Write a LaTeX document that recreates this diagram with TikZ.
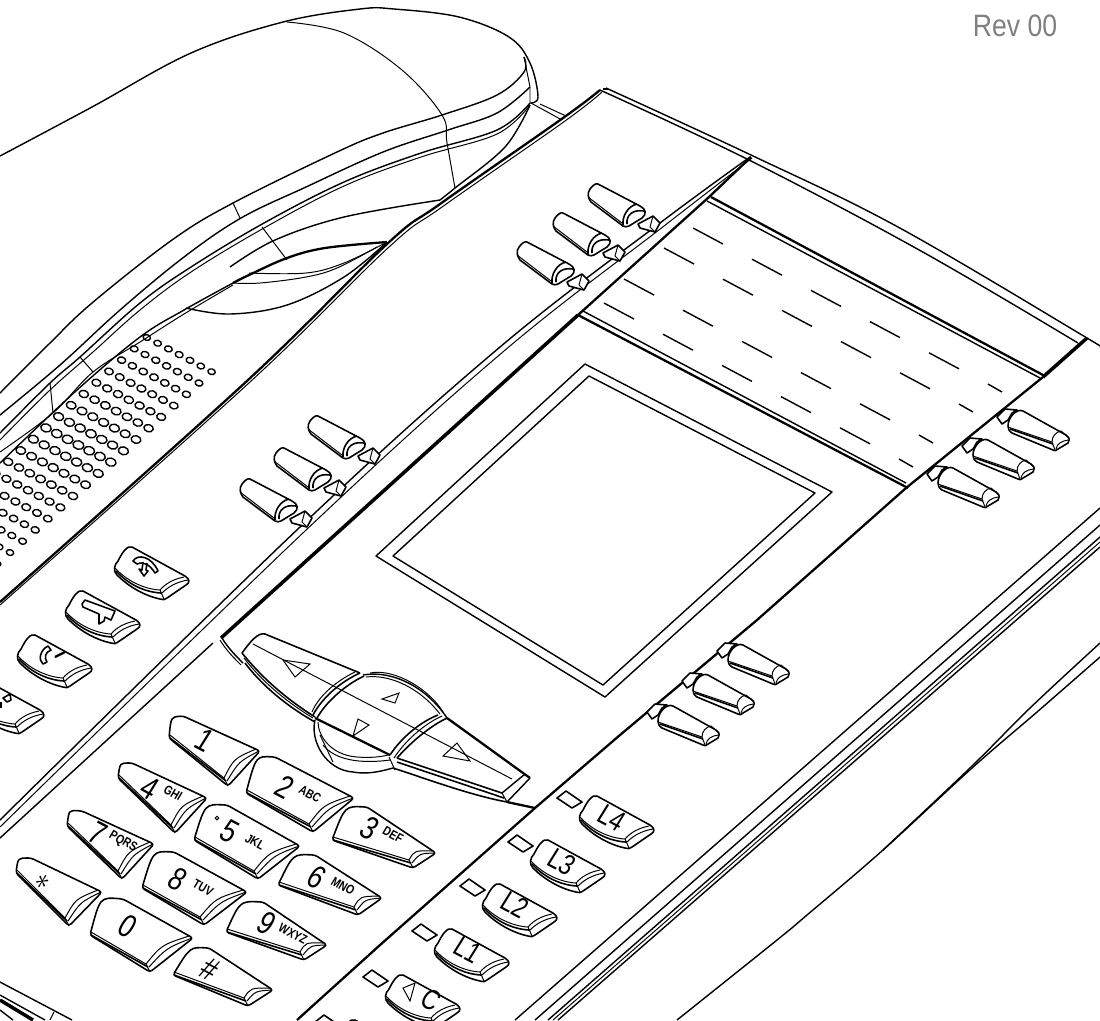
\documentclass[tikz,border=0pt]{standalone}
\usepackage{fontspec}
\setmainfont{Liberation Sans}
\usetikzlibrary{calc}

\tikzset{
	edge/.style={line width=.4pt,line join=round},
	fine/.style={line width=.28pt},
	bold/.style={line width=.65pt},
	heavy/.style={line width=1pt},
	keyline/.style={line width=.45pt,line join=round},
	padnum/.style={cm={.72,-.38,.55,.88,(0,0)},inner sep=0,font=\fontsize{9}{9}\selectfont},
	padsub/.style={cm={.62,-.33,.45,.75,(0,0)},inner sep=0,font=\fontsize{4.2}{5}\selectfont\bfseries},
	softkey/.pic={
		\draw[keyline,fill=white] (40,40) -- (55,32) -- (62,39) -- (57,48) -- (42,44) -- cycle;
		\draw[fine] (55,32) -- (52,43) -- (57,48);
		\draw[keyline,fill=white] (0,0) -- (42,22) .. controls (48,25) and (49,30) .. (44,34) -- (31,42) .. controls (29,43) and (27,43) .. (25,42) -- (-7,18) .. controls (-10,14) and (-11,9) .. (-8,5) .. controls (-5,1) and (-2,-1) .. (0,0) -- cycle;
		\draw[fine] (-10,13) -- (24,39);
		\draw[keyline] (25,41) .. controls (24,32) and (30,22) .. (39,20);
		\draw[keyline] (29,40) .. controls (28,32) and (34,25) .. (46,27);
	},
	sidekey/.pic={
		\draw[keyline,fill=white] (-26,6) -- (-18,-2) -- (-6,-1) -- (-11,2) -- (-15,9) -- (-21,13) -- cycle;
		\draw[keyline,fill=white] (0,0) -- (43,24) .. controls (47,27) and (47,30) .. (45,32) -- (35,38) .. controls (33,40) and (32,40) .. (30,39) -- (-11,22) .. controls (-14,20) and (-15,18) .. (-15,15) .. controls (-15,6) and (-6,-3) .. (0,0) -- cycle;
		\draw[fine] (-15,16) -- (29,31);
		\draw[keyline] (-13,18) -- (30,33);
		\draw[fine] (29,31) -- (32,39);
		\draw[fine] (29,31) .. controls (29,25) and (33,21) .. (38,20) -- (46,27);
		\draw[fine] (33,38) .. controls (34,33) and (38,30) .. (45,29);
	},
	funckey/.pic={
		\draw[keyline,fill=white] (0,0) -- (53,29) .. controls (58,32) and (58,36) .. (54,38) -- (35,51) .. controls (33,53) and (31,53) .. (28,52) .. controls (10,48) and (-5,38) .. (-15,28) .. controls (-19,24) and (-18,18) .. (-14,14) .. controls (-10,6) and (-5,-2) .. (0,0) -- cycle;
		\draw[fine] (-17,21) .. controls (-5,34) and (12,42) .. (28,43);
		\draw[keyline] (-16,24) .. controls (-4,37) and (12,45) .. (29,46);
		\draw[fine] (28,43) -- (32,52);
		\draw[fine] (28,43) .. controls (34,36) and (42,32) .. (52,30);
		\draw[fine] (30,46) .. controls (36,40) and (44,35) .. (56,33);
	},
	ledbox/.pic={
		\draw[keyline] (-40,2) -- (-31,-5) -- (-15,6) -- (-25,12) -- cycle;
	},
}

% d = left foot, v = left bend, a = top, b = right, c = bottom
\newcommand{\padkey}[5]{
	\coordinate (kd) at (#1);
	\coordinate (kv) at (#2);
	\coordinate (ka) at (#3);
	\coordinate (kb) at (#4);
	\coordinate (kc) at (#5);
	\coordinate (kp) at ($(kc)+(-4,-8)$);
	\coordinate (kq) at ($(kb)+(-4,-2)$);
	\draw[keyline,rounded corners=.8pt,fill=white] (kd) .. controls (kv) .. (ka) -- (kb) -- (kc) -- cycle;
	\draw[fine] ($(kd)+(1,-3)$) -- (kp);
	\draw[keyline] ($(kd)+(1,0)$) -- ($(kp)+(2,3)$);
	\draw[fine] (kp) -- (kc);
	\draw[fine] (kp) .. controls ($(kp)!.5!(kq)+(-6,-5)$) .. (kq);
	\draw[fine] ($(kp)+(3,3)$) .. controls ($(kp)!.5!(kq)+(-1,-2)$) .. ($(kq)+(3,2)$);
}

\begin{document}
\begin{tikzpicture}[x=0.01cm,y=-0.01cm]
	\useasboundingbox (0,0) rectangle (1100,1020);
	\clip (0,0) rectangle (1100,1020);

	\node[font=\fontsize{8.8}{9}\selectfont,text=black!50,xscale=.86,inner sep=0] (rev) at (1015,26) {Rev 00};

	% handset
	\draw[edge] plot[smooth,tension=.6] coordinates {(0,156) (92,107) (191,53) (283,22) (360,9) (394,9) (459,17) (509,37) (530,63) (538,97) (530,103)};
	\draw[fine] plot[smooth,tension=.6] coordinates {(287,22) (344,33) (402,70) (442,115) (447,143) (455,188)};
	\draw[edge] plot[smooth,tension=.6] coordinates {(524,57) (524,72) (497,95) (442,115) (383,133) (337,152) (233,203) (172,240) (92,303) (50,343) (0,393)};
	\draw[edge] plot[smooth,tension=.6] coordinates {(530,87) (497,113) (448,130) (383,152) (306,187) (241,218) (184,257) (120,310) (60,365) (0,415)};
	\draw[edge] plot[smooth,tension=.6] coordinates {(530,103) (497,130) (421,153) (344,182) (264,223) (191,267) (140,303) (80,357) (50,383) (0,433)};
	\draw[fine] plot[smooth,tension=.6] coordinates {(530,105) (497,134) (421,157) (344,186) (264,228) (191,272) (140,310) (93,352) (50,390) (0,440)};
	\draw[edge] plot[smooth,tension=.6] coordinates {(530,105) (505,147) (455,188) (440,200)};
	\draw[fine] (524,57) -- (530,87) -- (530,103);
	\draw[edge] plot[smooth,tension=.6] coordinates {(233,283) (184,310) (140,337) (77,390) (0,463)};
	\draw[fine] plot[smooth,tension=.6] coordinates {(233,285) (184,314) (140,342) (93,372) (53,413) (0,452)};
	\draw[fine] (80,357) -- (93,372);
	\draw[fine] (50,383) -- (53,413);
	\draw[fine] (233,203) -- (240,218);
	\draw[edge] plot[smooth,tension=.6] coordinates {(440,200) (344,217) (275,240) (230,267)};
	\draw[fine] (262,227) -- (287,260);
	\draw[bold] plot[smooth,tension=.6] coordinates {(387,242) (325,248) (287,258) (249,275) (233,283)};
	\draw[fine] plot[smooth,tension=.6] coordinates {(387,242) (344,263) (306,273) (249,273)};
	\draw[fine] plot[smooth,tension=.6] coordinates {(377,247) (337,268) (306,277) (260,283) (233,283)};
	\draw[edge] plot[smooth,tension=.6] coordinates {(387,242) (344,277) (287,305) (230,314) (186,308)};
	\draw[fine] (531,103) -- (562,120);
	\draw[fine] (540,104) -- (566,116);

	% speaker holes
	\foreach \k in {-6,...,11}
	\foreach \j in {0,...,6} {
		\pgfmathsetmacro{\hx}{73+12.6*\k-10.8*\j}
		\pgfmathsetmacro{\hy}{496-11.3*\k-5.7*\j}
		\pgfmathsetmacro{\hr}{5.6-.2*abs(\k-3)-.08*abs(\j-3)}
		\draw[edge,rotate around={-15:(\hx,\hy)}] (\hx,\hy) ellipse ({\hr} and {.76*\hr});
	}

	% body lines
	\draw[bold] plot[smooth,tension=.6] coordinates {(600,90) (563,118) (440,204) (387,244) (248,380) (0,602)};
	\draw[fine] plot[smooth,tension=.6] coordinates {(602,92) (565,121) (442,207) (389,247) (250,382) (0,605)};
	\draw[edge] (603,89) -- (608,89);
	\draw[edge] plot[smooth,tension=.6] coordinates {(606,88) (751,155) (898,227) (1087,338) (1100,347)};
	\draw[edge] plot[smooth,tension=.6] coordinates {(600,90) (749,160) (921,251) (1078,343)};
	\draw[edge] plot[smooth,tension=.6] coordinates {(750,157) (660,223) (500,347) (300,527) (0,820)};
	\draw[fine] plot[smooth,tension=.6] coordinates {(752,158) (664,226) (504,351) (305,531) (0,827)};
	\draw[bold] (751,157) -- (709,197) -- (578,315);
	\draw[heavy] (578,315) -- (221,638);
	\draw[edge] (213,643) -- (0,838);
	\draw[heavy] (1087,338) -- (1043,377);
	\draw[bold] (1043,377) -- (906,488);
	\draw[bold] (906,488) -- (757,620) -- (620,735) -- (535,808) -- (380,945) -- (297,1020);
	\draw[bold] (711,197) -- (1043,375);
	\draw[edge] (707,201) -- (1040,378);
	\draw[bold] (578,315) -- (908,488);
	\draw[edge] (583,311) -- (906,483);

	% labels strip
	\foreach \x/\y in {693/228,664/248,624/279,604/303} {
		\foreach \i in {0,...,4}
			\draw[edge] (\x+\i*59,\y+\i*31.2) -- ++(30,16);
		\draw[edge] (\x+5*59,\y+5*31.2) -- ++(14,8);
	}

	% display
	\draw[edge] (585,364) -- (832,492) -- (605,697) -- (376,556) -- cycle;
	\draw[edge] (589,376) -- (815,493) -- (603,685) -- (393,556) -- cycle;

	% right rim
	\draw[edge] (1100,508) -- (515,1020);
	\draw[edge] (1100,525) -- (535,1020);
	\draw[edge] (1100,537) -- (548,1020);
	\draw[fine] (1100,542) -- (553,1020);
	\draw[edge] (1100,547) -- (558,1020);
	\draw[edge] plot[smooth,tension=.6] coordinates {(1100,643) (1030,708) (972,766) (883,850)};
	\draw[edge] plot[smooth,tension=.6] coordinates {(1100,657) (1037,712) (972,768) (883,850) (807,915) (777,940) (677,1020)};

	% corner at the lower left
	\draw[edge] (0,982) -- (72,1020);
	\draw[edge] (0,995) -- (45,1020);
	\draw[heavy] (0,1000) -- (33,1020);
	\draw[edge] (0,1010) -- (13,1020);
	\draw[fine] (54,1012) -- (50,1020);

	% navigation pad
	\draw[edge] (222,638) .. controls (228,648) and (236,656) .. (243,663);
	\draw[fine] (220,640) .. controls (226,650) and (234,658) .. (241,665);
	\draw[keyline] (242,653) .. controls (250,642) and (258,632) .. (265,634) -- (360,673);
	\draw[fine] (253,644) -- (512,779);
	\draw[keyline] (242,653) .. controls (264,680) and (288,700) .. (315,717);
	\draw[keyline] (245,663) .. controls (264,688) and (290,708) .. (315,722);
	\draw[fine] (244,658) .. controls (264,684) and (290,704) .. (313,718);
	\draw[edge] (363,675) .. controls (390,670) and (425,685) .. (447,718);
	\draw[fine] (366,677) .. controls (390,674) and (420,688) .. (440,714);
	\draw[fine] (370,673) .. controls (395,668) and (430,690) .. (443,712);
	\draw[keyline] (360,673) .. controls (340,682) and (322,698) .. (313,715);
	\draw[fine] (355,672) .. controls (338,680) and (319,695) .. (312,712);
	\draw[keyline] (364,676) .. controls (345,685) and (326,702) .. (317,718);
	\draw[keyline] (438,715) .. controls (420,722) and (401,738) .. (390,755);
	\draw[fine] (442,716) .. controls (424,724) and (405,741) .. (394,758);
	\draw[keyline] (447,718) .. controls (430,726) and (410,743) .. (397,758);
	\draw[bold] (315,718) -- (390,755);
	\draw[bold] (447,718) -- (530,778);
	\draw[edge] (530,778) -- (507,802);
	\draw[edge] (525,774) -- (502,793);
	\draw[fine] (502,793) -- (507,802);
	\draw[keyline] (397,758) -- (502,793);
	\draw[keyline] (397,762) -- (504,798);
	\draw[keyline] (393,768) .. controls (430,780) and (470,795) .. (507,802);
	\draw[bold] (507,802) -- (535,808);
	\draw[edge] (315,720) .. controls (310,740) and (325,770) .. (353,772) .. controls (370,775) and (385,770) .. (393,768);
	\draw[fine] (318,722) .. controls (318,735) and (330,755) .. (357,757) .. controls (370,758) and (380,757) .. (388,755);
	\draw[fine] (323,745) .. controls (335,760) and (360,764) .. (390,760);
	\draw[fine] (320,735) -- (333,762);
	\draw[fine] (389,757) -- (395,770);
	\draw[fine] (283,660) -- (310,664) -- (295,677) -- cycle;
	\draw[fine] (382,699) -- (399,693) -- (395,703) -- cycle;
	\draw[fine] (358,719) -- (369,725) -- (353,736) -- cycle;
	\draw[fine] (443,756) -- (457,743) -- (470,761) -- cycle;

	% soft keys
	\foreach \x/\y in {598/184,563/213,527/242,318/416,284/448,250/479}
		\pic at (\x,\y) {softkey};
	\foreach \x/\y in {1023/411,988/440,953/468,743/645,708/675,673/706}
		\pic at (\x,\y) {sidekey};
	\foreach \x/\y in {597/796,548/840,500/884,452/929,403/975,132/547,83/591,35/635,-13/681,355/1020}
		\pic at (\x,\y) {funckey};
	\foreach \x/\y in {597/796,548/840,500/884,452/929,403/975,355/1020}
		\pic at (\x,\y) {ledbox};

	% key pad
	\padkey{169,738}{171,717}{183,716}{260,751}{228,786}
	\padkey{118,778}{120,763}{132,763}{207,798}{175,833}
	\padkey{67,826}{69,810}{82,811}{154,844}{122,879}
	\padkey{16,873}{18,858}{31,858}{102,892}{69,926}
	\padkey{246,793}{256,756}{275,757}{354,798}{313,832}
	\padkey{194,840}{205,804}{227,805}{300,846}{258,879}
	\padkey{142,888}{153,851}{174,852}{247,892}{204,925}
	\padkey{90,935}{100,897}{123,899}{193,938}{150,972}
	\padkey{332,840}{345,806}{367,807}{436,853}{413,868}
	\padkey{278,885}{293,854}{315,855}{382,898}{358,915}
	\padkey{226,932}{240,901}{263,902}{327,945}{304,960}
	\padkey{173,975}{190,947}{209,948}{273,990}{248,1006}

	\node[padnum] (num1) at (205,740) {1};
	\node[padnum] (num2) at (285,787) {2};
	\node[padnum] (num3) at (370,828) {3};
	\node[padnum] (num4) at (150,788) {4};
	\node[padnum] (num5) at (230,831) {5};
	\node[padnum] (num6) at (317,877) {6};
	\node[padnum] (num7) at (98,833) {7};
	\node[padnum] (num8) at (178,879) {8};
	\node[padnum] (num9) at (267,923) {9};
	\node[padnum] (num0) at (128,926) {0};
	\node[padnum] (star) at (42,882) {$\ast$};
	\node[padnum] (hash) at (210,969) {\#};
	\node[padsub] (abc) at (310,794) {ABC};
	\node[padsub] (def) at (393,835) {DEF};
	\node[padsub] (ghi) at (173,793) {GHI};
	\node[padsub] (jkl) at (255,842) {JKL};
	\node[padsub] (mno) at (343,886) {MNO};
	\node[padsub] (pqrs) at (123,842) {PQRS};
	\node[padsub] (tuv) at (203,888) {TUV};
	\node[padsub] (wxyz) at (293,934) {WXYZ};
	\draw[fine] (217,818) circle (1.8);

	\node[padnum,font=\fontsize{8}{8}\selectfont] (l4) at (612,818) {L4};
	\node[padnum,font=\fontsize{8}{8}\selectfont] (l3) at (562,862) {L3};
	\node[padnum,font=\fontsize{8}{8}\selectfont] (l2) at (515,905) {L2};
	\node[padnum,font=\fontsize{8}{8}\selectfont] (l1) at (468,950) {L1};
	\node[padnum,font=\fontsize{8}{8}\selectfont] (spk) at (431,1000) {C};
	\draw[fine] (403,988) -- (415,983) -- (410,1001) -- cycle;

	% icons on the feature keys
	\draw[keyline] (133,561) .. controls (138,553) and (152,557) .. (158,571) -- (155,573) .. controls (150,565) and (144,561) .. (137,564) -- cycle;
	\draw[keyline] (143,562) -- (142,570) -- (139,569) -- (144,576) -- (148,571) -- (146,570) -- (147,563);
	\draw[keyline] (82,604) -- (85,600) -- (115,611) -- (111,620) -- (105,617) -- (104,621) -- (99,624) -- (99,614) -- (83,607) -- cycle;
	\draw[keyline] (48,646) .. controls (40,650) and (38,660) .. (43,664) -- (47,662) .. controls (44,658) and (45,652) .. (51,650) -- cycle;
	\draw[bold] (65,652) -- (55,657);
	\draw[keyline] (3,698) -- (10,694) -- (11,700) -- (7,702) -- cycle;
	\draw[heavy] (0,702) -- (0,708);
\end{tikzpicture}
\end{document}
